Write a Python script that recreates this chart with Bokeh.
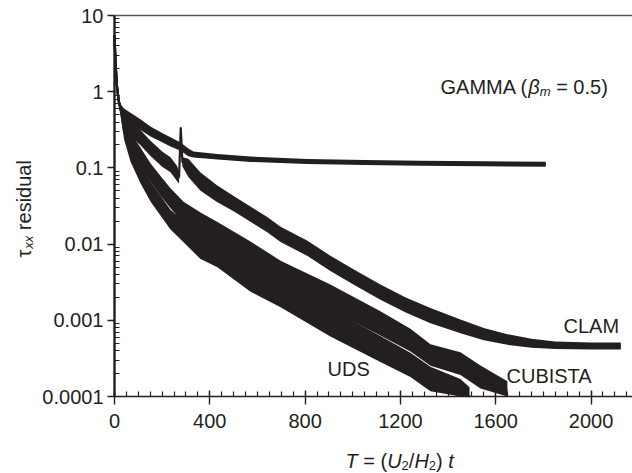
import math
from bokeh.plotting import figure
from bokeh.models import Range1d, LinearAxis, FixedTicker, Label
from bokeh.embed import file_html
from bokeh.resources import INLINE

# ---------------------------------------------------------------------------
# Residual histories (time T, residual value, half-width of the noise band in
# decades) for the four convection schemes.
# ---------------------------------------------------------------------------
gamma_t = [0, 4, 10, 18, 25, 40, 67, 109, 151, 200, 235, 277, 310, 331, 432,
           571, 810, 1050, 1284, 1550, 1810]
gamma_v = [5.5, 2.5, 1.2, 0.75, 0.6, 0.5, 0.44, 0.37, 0.30, 0.25, 0.22, 0.19,
           0.16, 0.15, 0.14, 0.13, 0.121, 0.118, 0.115, 0.113, 0.112]
gamma_spread = [0.02, 0.02, 0.03, 0.05, 0.06, 0.08, 0.08, 0.07, 0.065, 0.06,
                0.06, 0.055, 0.05, 0.04, 0.035, 0.035, 0.033, 0.033, 0.033,
                0.033, 0.033]

clam_t = [0, 4, 10, 18, 25, 40, 67, 109, 151, 200, 235, 262, 271, 278, 285,
          310, 361, 430, 500, 641, 697, 810, 906, 1010, 1116, 1220, 1326,
          1452, 1550, 1649, 1750, 1850, 2000, 2125]
clam_v = [5.5, 2.5, 1.2, 0.75, 0.6, 0.45, 0.33, 0.25, 0.18, 0.13, 0.11, 0.085,
          0.075, 0.34, 0.12, 0.1, 0.066, 0.046, 0.034, 0.018, 0.0134, 0.0088,
          0.0056, 0.0036, 0.00235, 0.0016, 0.00115, 0.00083, 0.00066,
          0.00056, 0.0005, 0.00047, 0.00046, 0.00046]
clam_spread = [0.02, 0.02, 0.03, 0.05, 0.06, 0.09, 0.1, 0.1, 0.1, 0.1, 0.1,
               0.1, 0.08, 0.02, 0.06, 0.12, 0.12, 0.11, 0.1, 0.1, 0.1, 0.1,
               0.1, 0.1, 0.1, 0.1, 0.1, 0.09, 0.08, 0.07, 0.06, 0.05, 0.045,
               0.045]

cubista_t = [0, 4, 10, 18, 25, 40, 67, 109, 151, 193, 235, 290, 361, 432, 571,
             697, 906, 1116, 1242, 1326, 1452, 1536, 1649]
cubista_v = [5.5, 2.5, 1.2, 0.75, 0.6, 0.38, 0.22, 0.14, 0.087, 0.058, 0.040,
             0.026, 0.018, 0.0135, 0.0073, 0.0041, 0.002, 0.00091, 0.00055,
             0.00035, 0.00027, 0.00018, 0.00012]
cubista_spread = [0.02, 0.02, 0.03, 0.05, 0.06, 0.1, 0.12, 0.12, 0.12, 0.13,
                  0.13, 0.14, 0.16, 0.16, 0.17, 0.17, 0.17, 0.16, 0.15, 0.14,
                  0.15, 0.15, 0.12]

uds_t = [0, 4, 10, 18, 25, 40, 67, 109, 151, 193, 235, 290, 361, 432, 571,
         697, 906, 1116, 1242, 1326, 1452, 1490]
uds_v = [5.5, 2.5, 1.2, 0.75, 0.6, 0.3, 0.16, 0.085, 0.049, 0.032, 0.021,
         0.0146, 0.0092, 0.0072, 0.0035, 0.0022, 0.00093, 0.00042, 0.00026,
         0.00017, 0.00012, 0.0001]
uds_spread = [0.02, 0.02, 0.03, 0.05, 0.06, 0.1, 0.12, 0.13, 0.13, 0.13, 0.13,
              0.14, 0.16, 0.16, 0.17, 0.17, 0.18, 0.17, 0.16, 0.16, 0.15, 0.12]

x_major = [0, 400, 800, 1200, 1600, 2000]
y_major = [1e-4, 1e-3, 1e-2, 1e-1, 1, 10]
y_major_labels = ["0.0001", "0.001", "0.01", "0.1", "1", "10"]

INK = "#231f20"
FONT = "Liberation Sans"
FS = 20
SUB = 13

# canvas size and the pixel box that holds the data limits
W, H = 632, 473
FL, FT, FR, FB = 114, 15, 632, 396
X0, X1 = 0, 2174
Y0, Y1 = 1e-4, 10


def px_x(x):
    return X0 + (x - FL) / (FR - FL) * (X1 - X0)


def px_y(y):
    ly0, ly1 = math.log10(Y0), math.log10(Y1)
    return 10 ** (ly1 - (y - FT) / (FB - FT) * (ly1 - ly0))


# the frame fills the whole canvas; axes sit at fixed data locations
p = figure(width=W, height=H, output_backend="svg", toolbar_location=None,
           y_axis_type="log",
           x_range=Range1d(px_x(0), px_x(W)), y_range=Range1d(px_y(H), px_y(0)),
           min_border=0)
p.outline_line_color = None
p.grid.visible = False
p.background_fill_color = "white"
p.border_fill_color = "white"

# bottom axis
xa = p.xaxis[0]
xa.fixed_location = Y0
xa.bounds = (X0, X1)
xa.ticker = FixedTicker(ticks=x_major,
                        minor_ticks=[m for m in range(0, 2201, 50)])
xa.axis_line_color = INK
xa.axis_line_width = 1.6
xa.major_tick_line_color = INK
xa.major_tick_line_width = 1.4
xa.major_tick_in = 6
xa.major_tick_out = 8
xa.minor_tick_line_color = INK
xa.minor_tick_line_width = 1.2
xa.minor_tick_in = 5
xa.minor_tick_out = 0
xa.major_label_text_font = FONT
xa.major_label_text_font_size = f"{FS}px"
xa.major_label_text_color = INK
xa.major_label_standoff = 9

# left axis
ya = p.yaxis[0]
ya.fixed_location = X0
ya.bounds = (Y0, Y1)
ya.ticker = FixedTicker(ticks=y_major,
                        minor_ticks=[k * 10.0 ** e for e in range(-4, 1)
                                     for k in range(2, 10)])
ya.major_label_overrides = {v: s for v, s in zip(y_major, y_major_labels)}
ya.axis_line_color = INK
ya.axis_line_width = 2.4
ya.major_tick_line_color = INK
ya.major_tick_line_width = 1.4
ya.major_tick_in = 0
ya.major_tick_out = 7
ya.minor_tick_line_color = INK
ya.minor_tick_line_width = 1.2
ya.minor_tick_in = 5
ya.minor_tick_out = 0
ya.major_label_text_font = FONT
ya.major_label_text_font_size = f"{FS}px"
ya.major_label_text_color = INK
ya.major_label_standoff = 4

# thin grey rule along the top of the plot box
top = LinearAxis(fixed_location=Y1, bounds=(X0, X1),
                 ticker=FixedTicker(ticks=[]), major_tick_line_color=None,
                 minor_tick_line_color=None, axis_line_color="#555555",
                 axis_line_width=1.6)
p.add_layout(top, "above")


def band(t, v, spread):
    lo = [max(a / 10 ** s, Y0) for a, s in zip(v, spread)]
    hi = [a * 10 ** s for a, s in zip(v, spread)]
    p.varea(x=t, y1=lo, y2=hi, fill_color=INK)
    p.line(t, v, line_color=INK, line_width=2.2)


band(gamma_t, gamma_v, gamma_spread)
band(clam_t, clam_v, clam_spread)
band(cubista_t, cubista_v, cubista_spread)
band(uds_t, uds_v, uds_spread)

# ---------------------------------------------------------------------------
# texts with mixed styles (italic symbols, subscripts)
# ---------------------------------------------------------------------------
ADV = {"T": 611, " ": 278, "=": 584, "(": 333, ")": 333, "U": 722, "H": 722,
       "/": 278, "t": 278, "2": 556, "G": 778, "A": 667, "M": 833, "β": 573,
       "m": 833, "0": 556, ".": 278, "5": 556, "C": 722, "L": 556, "B": 667,
       "I": 278, "S": 667, "D": 722, "τ": 440, "x": 500, "r": 333, "e": 556,
       "s": 500, "i": 222, "d": 556, "u": 556, "a": 556, "l": 222}


def adv(s, size):
    return sum(ADV.get(c, 556) for c in s) * size / 1000.0


def rich(x, y, parts, vertical=False):
    """parts: (text, size, italic, shift in px below the line middle).

    (x, y) is the start of the line at its middle, in canvas pixels."""
    pos = x if not vertical else y
    for text, size, italic, shift in parts:
        lead = len(text) - len(text.lstrip(" "))
        pos += adv(" " * lead, size) * (-1 if vertical else 1)
        body = text.strip(" ")
        if vertical:
            lx, ly = x + shift, pos
        else:
            lx, ly = pos, y + shift
        p.add_layout(Label(x=px_x(lx), y=px_y(ly), text=body,
                           text_font=FONT, text_font_size=f"{size}px",
                           text_font_style="italic" if italic else "normal",
                           text_color=INK, text_align="left",
                           text_baseline="middle",
                           angle=math.pi / 2 if vertical else 0))
        pos += adv(text.lstrip(" "), size) * (-1 if vertical else 1)


rich(440, 86, [("GAMMA (", FS, False, 0), ("β", FS, True, 0),
               ("m", SUB, True, 5), (" = 0.5)", FS, False, 0)])
rich(563, 325, [("CLAM", FS, False, 0)])
rich(506, 375, [("CUBISTA", FS, False, 0)])
rich(327, 368, [("UDS", FS, False, 0)])

# x-axis title: T = (U2/H2) t
rich(345, 460, [("T", FS, True, 0), (" = (", FS, False, 0), ("U", FS, True, 0),
                ("2", SUB, False, 5), ("/", FS, False, 0), ("H", FS, True, 0),
                ("2", SUB, False, 5), (")", FS, False, 0), (" t", FS, True, 0)])

# y-axis title: tau_xx residual, reading upwards
rich(23, 257, [("τ", FS, False, 0), ("xx", SUB, True, 5),
               (" residual", FS, False, 0)], vertical=True)

open("out.html", "w").write(file_html(p, INLINE))
